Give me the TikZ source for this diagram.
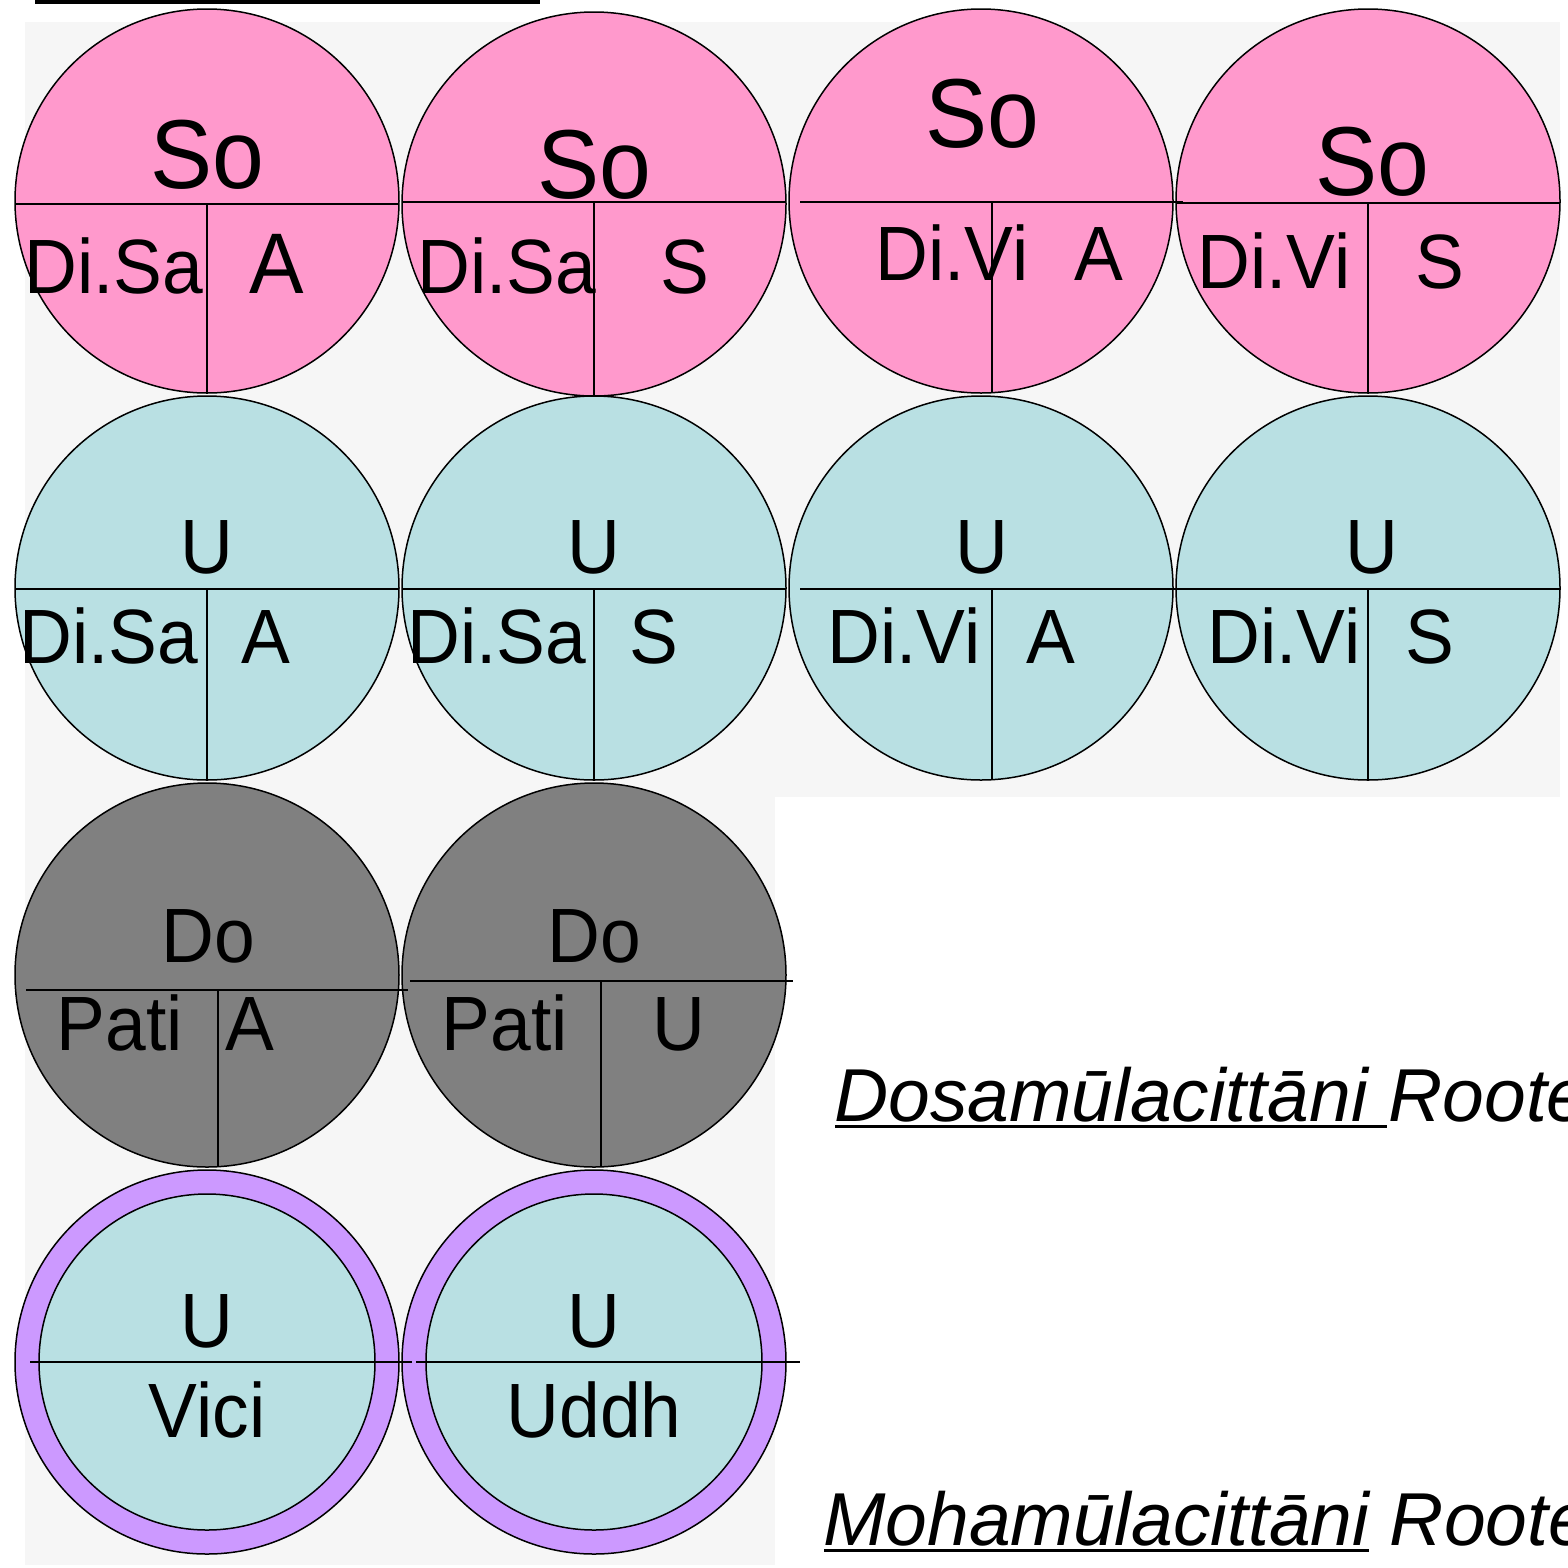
\documentclass[tikz,border=0pt]{standalone}
\usepackage{fontspec}
\setmainfont{Liberation Sans}
\newfontfamily\narrowf{Liberation Sans}[FakeStretch=0.95]
\definecolor{pinkc}{HTML}{FF99CC}
\definecolor{bluec}{HTML}{B9E0E3}
\definecolor{greyc}{HTML}{808080}
\definecolor{purplec}{HTML}{CC99FF}
\definecolor{bgc}{HTML}{F6F6F6}
\newcommand\fbig{\narrowf\fontsize{98}{100}\selectfont}
\newcommand\fmid{\narrowf\fontsize{77}{80}\selectfont}
\newcommand\fcap{\fontsize{75}{78}\selectfont\itshape}
\begin{document}
\begin{tikzpicture}[x=1pt,y=-1pt,
  circbox/.style={circle,draw=black,line width=1.5pt,minimum size=384pt,inner sep=0pt},
  innercirc/.style={circle,draw=black,line width=1.5pt,minimum size=336pt,inner sep=0pt,fill=bluec},
  sepline/.style={line width=1.8pt},
  lbltxt/.style={anchor=base,inner sep=0pt,font=\fmid},
  bigtxt/.style={anchor=base,inner sep=0pt,font=\fbig},
  captxt/.style={anchor=base west,inner sep=0pt,font=\fcap}]
\useasboundingbox (0,0) rectangle (1568,1567);
\clip (0,0) rectangle (1568,1567);
\fill[bgc] (25,22) rectangle (1560,797);
\fill[bgc] (25,789) rectangle (775,1565);
\draw[line width=4pt] (35,2) -- (540,2);

% Row 1 (pink)
\node[circbox,fill=pinkc] (p1) at (207,201) {};
\node[circbox,fill=pinkc] (p2) at (594,204) {};
\node[circbox,fill=pinkc] (p3) at (981,201) {};
\node[circbox,fill=pinkc] (p4) at (1368,201) {};
\draw[sepline] (15,204) -- (399,204) (207,204) -- (207,393);
\draw[sepline] (402,202) -- (786,202) (594,202) -- (594,396);
\draw[sepline] (800,202) -- (1183,202) (992,202) -- (992,393);
\draw[sepline] (1176,203) -- (1560,203) (1368,203) -- (1368,393);
\node[bigtxt] (p1a) at (207,188) {So};
\node[lbltxt] (p1b) at (114,293) {Di.Sa};
\node[lbltxt,font=\narrowf\fontsize{86}{88}\selectfont] (p1c) at (277,293) {A};
\node[bigtxt] (p2a) at (594,198) {So};
\node[lbltxt] (p2b) at (507,293) {Di.Sa};
\node[lbltxt] (p2c) at (685,293) {S};
\node[bigtxt] (p3a) at (982,147) {So};
\node[lbltxt] (p3b) at (952,280) {Di.Vi};
\node[lbltxt] (p3c) at (1099,280) {A};
\node[bigtxt] (p4a) at (1372,195) {So};
\node[lbltxt] (p4b) at (1274,288) {Di.Vi};
\node[lbltxt] (p4c) at (1440,288) {S};

% Row 2 (blue)
\node[circbox,fill=bluec] (b1) at (207,588) {};
\node[circbox,fill=bluec] (b2) at (594,588) {};
\node[circbox,fill=bluec] (b3) at (981,588) {};
\node[circbox,fill=bluec] (b4) at (1368,588) {};
\draw[sepline] (15,589) -- (399,589) (207,589) -- (207,780);
\draw[sepline] (402,589) -- (786,589) (594,589) -- (594,780);
\draw[sepline] (800,589) -- (1185,589) (992,589) -- (992,780);
\draw[sepline] (1177,589) -- (1560,589) (1368,589) -- (1368,780);
\node[lbltxt] (b1a) at (207,573) {U};
\node[lbltxt] (b1b) at (109,663) {Di.Sa};
\node[lbltxt] (b1c) at (266,663) {A};
\node[lbltxt] (b2a) at (594,573) {U};
\node[lbltxt] (b2b) at (497,663) {Di.Sa};
\node[lbltxt] (b2c) at (654,663) {S};
\node[lbltxt] (b3a) at (982,573) {U};
\node[lbltxt] (b3b) at (904,663) {Di.Vi};
\node[lbltxt] (b3c) at (1051,663) {A};
\node[lbltxt] (b4a) at (1372,573) {U};
\node[lbltxt] (b4b) at (1284,663) {Di.Vi};
\node[lbltxt] (b4c) at (1430,663) {S};

% Row 3 (grey)
\node[circbox,fill=greyc] (g1) at (207,975) {};
\node[circbox,fill=greyc] (g2) at (594,975) {};
\draw[sepline] (26,990) -- (408,990) (218,990) -- (218,1167);
\draw[sepline] (410,981) -- (793,981) (601,981) -- (601,1167);
\node[lbltxt] (g1a) at (208,962) {Do};
\node[lbltxt] (g1b) at (120,1050) {Pati};
\node[lbltxt] (g1c) at (250,1050) {A};
\node[lbltxt] (g2a) at (594,962) {Do};
\node[lbltxt] (g2b) at (505,1050) {Pati};
\node[lbltxt] (g2c) at (679,1050) {U};

% Row 4 (purple ring)
\node[circbox,fill=purplec] (v1) at (207,1362) {};
\node[circbox,fill=purplec] (v2) at (594,1362) {};
\node[innercirc] (v1i) at (207,1362) {};
\node[innercirc] (v2i) at (594,1362) {};
\draw[sepline] (30,1362) -- (412,1362);
\draw[sepline] (416,1362) -- (800,1362);
\node[lbltxt] (v1a) at (207,1347) {U};
\node[lbltxt] (v1b) at (207,1437) {Vici};
\node[lbltxt] (v2a) at (594,1347) {U};
\node[lbltxt] (v2b) at (594,1437) {Uddh};

% Captions (cut off at the right edge, as in the reference)
\node[captxt] (t1) at (834,1121) {Dosamūlacittāni Roote};
\draw[line width=3pt] (835,1126) -- (1387,1126);
\node[captxt] (t2) at (823,1545) {Mohamūlacittāni Roote};
\draw[line width=3pt] (824,1550) -- (1369,1550);
\end{tikzpicture}
\end{document}
